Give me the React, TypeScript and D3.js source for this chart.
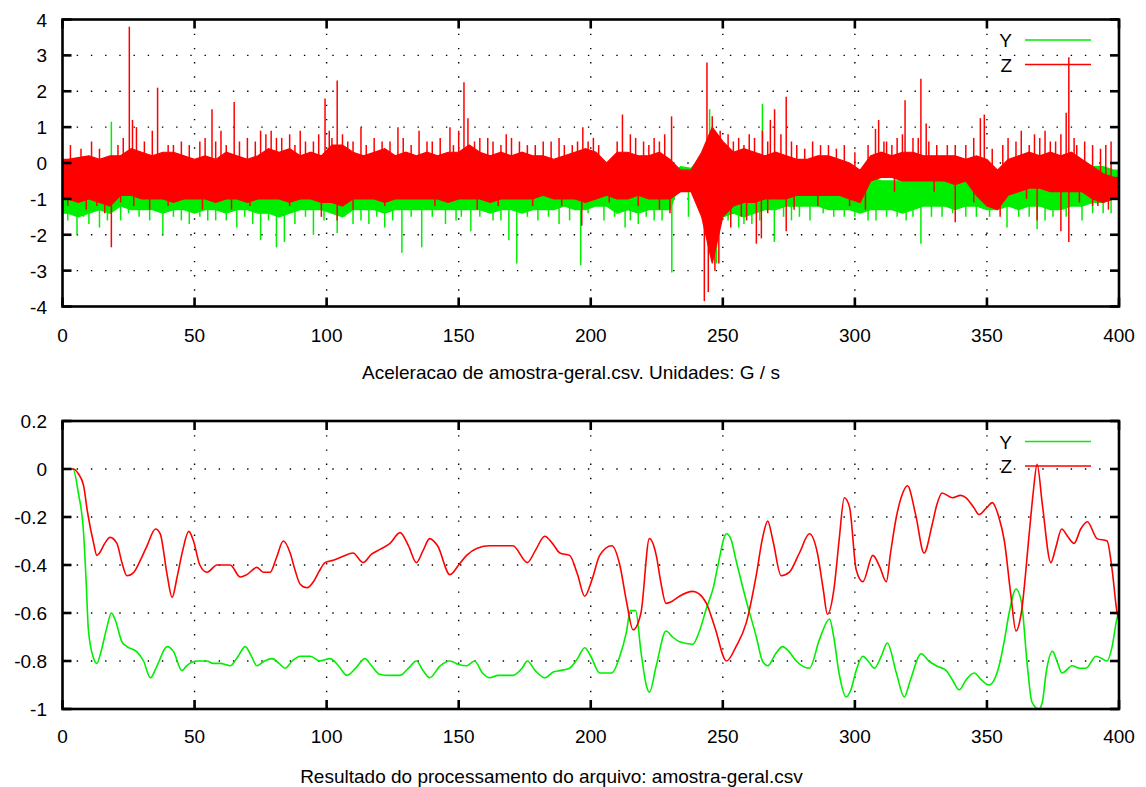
import React, { useEffect, useRef } from 'react';
import * as d3 from 'd3';

const W = 1146;
const H = 787;

const X_TICKS = [0, 50, 100, 150, 200, 250, 300, 350, 400];
const TOP_Y_TICKS = [-4, -3, -2, -1, 0, 1, 2, 3, 4];
const BOTTOM_Y_TICKS = [-1, -0.8, -0.6, -0.4, -0.2, 0, 0.2];
const SERIES = ['Y', 'Z'];
const TOP_TITLE = 'Aceleracao de amostra-geral.csv. Unidades: G / s';
const BOTTOM_TITLE = 'Resultado do processamento do arquivo: amostra-geral.csv';

// Raw acceleration: dense noise band summarised per 4 s bin (upper / lower edge)
const ACC_BIN = 4;
const accZHi = [
  0.1, 0.15, 0.2, 0.1, 0.2, 0.2, 0.4, 0.3, 0.2, 0.3,
  0.3, 0.2, 0.1, 0.2, 0.1, 0.3, 0.2, 0.1, 0.2, 0.4,
  0.3, 0.4, 0.2, 0.3, 0.2, 0.5, 0.5, 0.3, 0.2, 0.3,
  0.4, 0.2, 0.3, 0.2, 0.3, 0.2, 0.3, 0.3, 0.5, 0.3,
  0.2, 0.3, 0.2, 0.3, 0.2, 0.2, 0.1, 0.2, 0.3, 0.4,
  0.3, 0.0, 0.3, 0.3, 0.2, 0.2, 0.3, 0.1, -0.2, -0.2,
  0.3, 1.0, 0.6, 0.3, 0.4, 0.3, 0.2, 0.3, 0.2, 0.1,
  0.1, 0.2, 0.2, 0.1, 0.0, -0.2, 0.2, 0.3, 0.2, 0.3,
  0.3, 0.2, 0.2, 0.2, 0.2, 0.1, 0.2, 0.1, -0.2, 0.1,
  0.2, 0.3, 0.2, 0.3, 0.2, 0.3, 0.1, -0.1, -0.3, -0.4,
];
const accZLo = [
  -1.0, -1.1, -1.0, -1.1, -1.2, -0.9, -0.9, -1.0, -1.0, -1.0,
  -1.1, -1.0, -1.0, -1.0, -1.1, -1.0, -1.0, -1.1, -1.0, -1.0,
  -1.0, -1.1, -1.0, -1.0, -1.1, -1.1, -1.2, -1.0, -1.0, -1.0,
  -1.1, -1.0, -1.0, -1.0, -1.0, -1.0, -1.1, -1.0, -1.0, -1.0,
  -1.1, -1.0, -1.0, -1.0, -1.0, -0.9, -1.0, -1.0, -1.0, -1.1,
  -1.0, -0.9, -1.0, -1.0, -0.9, -1.0, -1.0, -1.0, -0.8, -0.8,
  -1.5, -2.8, -1.5, -1.2, -1.1, -1.1, -1.0, -1.0, -1.0, -0.9,
  -0.9, -0.9, -0.9, -0.9, -1.0, -1.1, -0.5, -0.4, -0.4, -0.5,
  -0.5, -0.5, -0.5, -0.5, -0.6, -0.5, -0.9, -1.2, -1.3, -0.9,
  -0.8, -0.7, -0.7, -0.8, -0.8, -0.8, -0.8, -1.0, -1.1, -1.0,
];
const accYHi = [
  -0.6, -0.5, -0.6, -0.5, -0.5, -0.6, -0.5, -0.6, -0.5, -0.5,
  -0.5, -0.6, -0.5, -0.5, -0.6, -0.5, -0.5, -0.5, -0.6, -0.5,
  -0.5, -0.5, -0.6, -0.5, -0.5, -0.5, -0.6, -0.5, -0.5, -0.5,
  -0.6, -0.5, -0.5, -0.5, -0.6, -0.5, -0.5, -0.5, -0.5, -0.6,
  -0.5, -0.5, -0.6, -0.5, -0.5, -0.5, -0.5, -0.6, -0.5, -0.4,
  -0.4, -0.5, -0.5, -0.6, -0.5, -0.5, -0.5, -0.4, -0.1, -0.15,
  0.2, 0.8, 0.3, -0.4, -0.5, -0.4, -0.5, -0.5, -0.5, -0.4,
  -0.1, -0.2, -0.2, -0.4, -0.4, -0.3, -0.4, -0.5, -0.5, -0.5,
  -0.5, -0.5, -0.5, -0.4, -0.5, -0.5, -0.4, -0.3, -0.2, -0.4,
  -0.5, -0.5, -0.5, -0.5, -0.5, -0.5, -0.3, -0.1, -0.1, -0.2,
];
const accYLo = [
  -1.4, -1.5, -1.4, -1.3, -1.4, -1.2, -1.3, -1.3, -1.3, -1.4,
  -1.3, -1.3, -1.4, -1.3, -1.3, -1.4, -1.3, -1.3, -1.4, -1.4,
  -1.5, -1.4, -1.3, -1.3, -1.3, -1.4, -1.5, -1.3, -1.3, -1.3,
  -1.4, -1.3, -1.3, -1.3, -1.3, -1.3, -1.3, -1.3, -1.3, -1.3,
  -1.4, -1.3, -1.3, -1.4, -1.3, -1.3, -1.3, -1.2, -1.3, -1.3,
  -1.2, -1.2, -1.4, -1.3, -1.4, -1.3, -1.3, -1.3, -0.5, -0.6,
  -1.4, -1.6, -1.5, -1.4, -1.5, -1.4, -1.3, -1.3, -1.2, -1.2,
  -1.2, -1.2, -1.3, -1.3, -1.3, -1.4, -1.3, -1.3, -1.3, -1.4,
  -1.3, -1.2, -1.2, -1.2, -1.3, -1.2, -1.2, -1.3, -1.3, -1.2,
  -1.3, -1.2, -1.2, -1.3, -1.3, -1.2, -1.2, -1.1, -1.1, -1.0,
];

// peaks sticking out of the band: [time, value]
const accZPeaks = [
  [25.3, 3.8], [26.5, 1.2], [28, 1.0], [36, 2.1], [40, 0.5], [45, 0.6], [56.6, 1.5], [60, 0.9],
  [65, 1.7], [70, 0.7], [77, 0.8], [79, 0.9], [83, 0.7], [86, 0.8], [92, 0.6], [97, 0.8],
  [99.4, 1.8], [101, 0.9], [104, 2.3], [108, 0.6], [113, 1.0], [118, 0.7], [124, 0.6], [127, 1.0],
  [135, 0.9], [140, 0.6], [146.7, 1.0], [150, 0.9], [152, 2.25], [153.5, 1.25], [158, 0.7], [163, 0.6],
  [170, 0.7], [176, 0.5], [182, 0.6], [190, 0.5], [197, 1.0], [199, 0.6], [212, 1.35], [215, 0.8],
  [220, 0.6], [224, 0.7], [230.6, 1.3], [244, 2.8], [246, 1.3], [249, 0.9], [256, 0.7], [260, 0.8],
  [265, 0.9], [268, 1.2], [269.6, 1.5], [272, 0.8], [274, 1.85], [278, 0.5], [284, 0.6], [290, 0.5],
  [296, 0.5], [307.8, 0.95], [309, 1.2], [312, 0.6], [316, 0.7], [319, 1.75], [322, 0.7], [325, 2.35],
  [328, 0.6], [335, 0.5], [342, 0.5], [347.5, 1.25], [349, 1.35], [358, 0.7], [363, 0.9], [368, 0.8],
  [372, 0.9], [376, 0.6], [380, 1.4], [381, 2.95], [384, 0.5], [390, 0.5], [397, 0.6],
  [3, 0.5], [7, 0.4], [11, 0.6], [14, 0.4], [21, 0.5], [23, 0.7], [31, 0.6], [34, 0.9], [42, 0.5],
  [48, 0.5], [52, 0.6], [54, 0.7], [58, 0.6], [62, 0.5], [67, 0.6], [73, 0.6], [75, 0.9], [81, 0.7],
  [88, 0.5], [90, 0.9], [95, 0.6], [102, 0.7], [106, 0.8], [110, 0.6], [115, 0.5], [121, 0.6],
  [129, 0.7], [132, 0.5], [138, 0.6], [143, 0.7], [148, 0.5], [156, 0.6], [161, 0.7], [166, 0.5],
  [168, 0.8], [173, 0.6], [179, 0.5], [185, 0.6], [188, 0.7], [193, 0.5], [195, 0.6], [201, 0.7],
  [203, 0.5], [210, 0.6], [217, 0.7], [222, 0.5], [226, 0.6], [228, 0.8], [252, 0.8], [254, 0.6],
  [258, 0.5], [262, 0.7], [267, 0.6], [276, 0.6], [281, 0.4], [287, 0.5], [293, 0.4], [300, 0.3],
  [305, 0.5], [311, 0.6], [314, 0.5], [318, 0.8], [324, 0.7], [327, 1.1], [331, 0.5], [338, 0.5],
  [345, 0.7], [352, 0.4], [356, 0.5], [361, 0.6], [366, 0.5], [370, 0.7], [374, 0.6], [378, 0.8],
  [383, 0.7], [387, 0.6], [393, 0.4], [395, 0.5],
  [18.5, -2.35], [16, -1.4], [33, -1.3], [64, -1.3], [98, -1.5], [104, -1.6], [196.6, -1.75], [230, -1.4],
  [243, -3.85], [244.5, -3.6], [247, -3.0], [248.5, -2.8], [259, -1.6], [262.7, -2.25], [264.6, -2.1],
  [274, -1.9], [338, -1.65], [369, -1.6], [378, -1.9], [381, -2.2], [392, -1.2], [396, -1.3],
  [2, -1.2], [9, -1.3], [13, -1.2], [22, -1.1], [27, -1.2], [40, -1.2], [53, -1.3], [71, -1.2],
  [86, -1.2], [110, -1.3], [122, -1.2], [141, -1.2], [157, -1.3], [165, -1.2], [178, -1.2], [189, -1.2],
  [207, -1.1], [218, -1.2], [226, -1.3], [253, -1.8], [257, -1.5], [267, -1.4], [277, -1.3], [286, -1.2],
  [298, -1.2], [304, -1.3], [315, -0.8], [330, -0.8], [345, -1.1], [355, -1.5], [365, -1.0], [385, -1.1],
  [390, -1.2],
];
const accYPeaks = [
  [5.5, -2.0], [10, -1.7], [14, -1.8], [22, -1.6], [38, -2.0], [48, -1.7], [58, -1.6], [66, -1.8],
  [75, -2.15], [81, -2.35], [84, -2.2], [88, -1.7], [95, -2.0], [104, -1.95], [110, -1.7], [116, -1.7],
  [122, -1.8], [128.5, -2.5], [136, -2.35], [145, -1.7], [154.6, -1.9], [163, -1.6], [169, -2.15], [172, -2.8],
  [180, -1.6], [188, -1.7], [196.2, -2.85], [205, -1.6], [213, -1.8], [218, -1.7], [224, -1.6], [230.7, -3.05],
  [237, -1.5], [247.6, -2.8], [256, -1.8], [261, -1.7], [269.5, -2.2], [276, -1.6], [283, -1.6], [296, -1.5],
  [305, -1.6], [312, -1.5], [319.4, -1.6], [325, -2.25], [333, -1.5], [342, -1.5], [357.6, -1.8], [362, -1.5],
  [369, -1.85], [375, -1.5], [386, -1.6], [397, -1.4],
  [2, -1.6], [8, -1.5], [17, -1.6], [25, -1.4], [29, -1.5], [33, -1.6], [42, -1.5], [45, -1.6],
  [52, -1.5], [55, -1.6], [62, -1.6], [69, -1.5], [72, -1.7], [78, -1.6], [92, -1.5], [99, -1.6],
  [107, -1.5], [113, -1.6], [119, -1.5], [125, -1.6], [132, -1.5], [140, -1.5], [149, -1.6], [151, -1.5],
  [158, -1.5], [166, -1.6], [176, -1.5], [184, -1.5], [192, -1.6], [199, -1.4], [209, -1.5], [215, -1.6],
  [221, -1.5], [227, -1.6], [252, -1.6], [258, -1.7], [264, -1.6], [273, -1.5], [279, -1.5], [288, -1.4],
  [292, -1.5], [300, -1.5], [308, -1.6], [316, -1.5], [322, -1.5], [329, -1.5], [337, -1.4], [346, -1.5],
  [351, -1.5], [366, -1.5], [372, -1.6], [380, -1.5], [390, -1.4], [394, -1.4],
  [18.5, 1.15], [245, 1.5], [265, 1.65],
];

// Processed result (bottom panel): [time, value]
const resY = [
  [0, 0], [4, 0], [6, -0.1], [8, -0.27], [9, -0.48], [9.8, -0.67], [11.8, -0.79], [13, -0.81], [14.6, -0.76],
  [16.8, -0.66], [18.5, -0.6], [20, -0.63], [22.5, -0.72], [24.4, -0.74], [28, -0.76], [30.7, -0.8], [33.3, -0.87],
  [35.8, -0.82], [39.6, -0.74], [42, -0.76], [45.2, -0.84], [47, -0.82], [51, -0.8], [54.7, -0.8], [57, -0.81],
  [59.7, -0.81], [63.5, -0.82], [66.5, -0.78], [69.2, -0.74], [71.5, -0.78], [73.6, -0.82], [76.5, -0.8],
  [79.4, -0.79], [82, -0.81], [84.3, -0.83], [87, -0.8], [90, -0.78], [93.8, -0.78], [97.5, -0.8], [101.3, -0.79],
  [104.5, -0.82], [107.7, -0.86], [111, -0.83], [114.5, -0.79], [117, -0.82], [120, -0.855], [124, -0.86],
  [127.8, -0.86], [131, -0.83], [134, -0.8], [136.5, -0.84], [139, -0.87], [143, -0.82], [146.7, -0.8],
  [150, -0.815], [153, -0.82], [156, -0.8], [159, -0.85], [161.8, -0.87], [165, -0.86], [170.5, -0.86],
  [174, -0.83], [176, -0.8], [179, -0.84], [182.6, -0.87], [186, -0.845], [188.3, -0.84], [192, -0.83],
  [195, -0.79], [197.7, -0.745], [200, -0.78], [203.4, -0.85], [206, -0.85], [208, -0.85], [211, -0.78],
  [213.5, -0.68], [215, -0.59], [217, -0.59], [219, -0.76], [221, -0.9], [222.2, -0.93], [224.8, -0.82],
  [228.5, -0.675], [231, -0.7], [233.6, -0.72], [238.6, -0.73], [241, -0.68], [243.8, -0.58], [246.5, -0.49],
  [248, -0.41], [251.4, -0.27], [253, -0.29], [255, -0.38], [258.9, -0.55], [262.7, -0.7], [265, -0.8],
  [267, -0.82], [270, -0.77], [272.6, -0.74], [275, -0.76], [277.8, -0.8], [282.8, -0.83], [286.6, -0.71],
  [290.4, -0.625], [292, -0.7], [294, -0.85], [296.7, -0.95], [298.5, -0.92], [300.5, -0.84], [303, -0.78],
  [305, -0.8], [307.4, -0.83], [310, -0.78], [312.3, -0.725], [315.7, -0.85], [318.7, -0.95], [321, -0.88],
  [325.1, -0.77], [328, -0.8], [330.8, -0.82], [334.6, -0.84], [337, -0.88], [339.5, -0.92], [342, -0.88],
  [345.2, -0.85], [348, -0.88], [350.8, -0.9], [354.6, -0.82], [356.5, -0.72], [358.4, -0.6], [361, -0.5],
  [363, -0.55], [365.3, -0.82], [367, -0.97], [369.7, -1.0], [371, -0.97], [372.4, -0.85], [374.8, -0.76],
  [376.5, -0.8], [378.4, -0.85], [382.3, -0.82], [385, -0.83], [387.5, -0.83], [391.3, -0.78], [393.5, -0.79],
  [395.5, -0.8], [397.4, -0.74], [399.3, -0.62], [400, -0.6],
];
const resZ = [
  [0, 0], [4, 0], [6, -0.02], [8, -0.07], [9.4, -0.175], [11.8, -0.31], [13, -0.36], [14, -0.35], [16, -0.31],
  [18, -0.285], [20.6, -0.31], [22.5, -0.39], [24.4, -0.445], [27, -0.43], [29.5, -0.38], [32, -0.32],
  [35.2, -0.25], [37, -0.27], [39.6, -0.44], [41.5, -0.535], [43.4, -0.45], [45.5, -0.34], [47.8, -0.26],
  [49.6, -0.3], [52, -0.4], [54.7, -0.43], [58.5, -0.4], [63.5, -0.4], [67.3, -0.45], [69.8, -0.44],
  [73.6, -0.41], [76, -0.43], [78.6, -0.43], [81, -0.37], [83.6, -0.3], [86.2, -0.35], [88, -0.42], [90, -0.48],
  [92.6, -0.495], [95, -0.47], [97, -0.43], [99.4, -0.39], [102.5, -0.38], [106, -0.365], [110, -0.35],
  [113.8, -0.39], [117, -0.355], [120.2, -0.335], [124, -0.31], [127.8, -0.265], [131, -0.32], [134, -0.39],
  [136.5, -0.34], [139, -0.29], [142, -0.32], [146.7, -0.44], [150, -0.4], [153, -0.36], [157, -0.33],
  [161.8, -0.32], [170.5, -0.32], [176, -0.39], [179, -0.34], [182.6, -0.28], [185.5, -0.31], [188.3, -0.35],
  [192, -0.36], [195, -0.44], [197.7, -0.53], [200.5, -0.46], [203.4, -0.36], [208, -0.32], [211, -0.4],
  [213.5, -0.55], [216, -0.67], [219, -0.6], [222.2, -0.29], [224.8, -0.36], [226.5, -0.47], [228.5, -0.56],
  [231, -0.55], [233.6, -0.53], [238.6, -0.51], [241, -0.52], [243.8, -0.56], [247, -0.66], [251.4, -0.8],
  [255, -0.74], [258.9, -0.64], [262.7, -0.44], [265, -0.29], [267, -0.217], [269, -0.3], [272.1, -0.445],
  [275.2, -0.43], [279, -0.35], [282.8, -0.27], [285.8, -0.35], [288, -0.5], [289.6, -0.605], [292.2, -0.49],
  [294, -0.3], [296, -0.12], [298, -0.16], [300.5, -0.42], [303, -0.47], [306.8, -0.36], [309.5, -0.41],
  [311.9, -0.47], [313.5, -0.35], [315.7, -0.2], [317.5, -0.12], [319.9, -0.07], [323, -0.19], [326.2, -0.35],
  [329.3, -0.23], [331, -0.15], [333, -0.1], [337, -0.12], [340, -0.11], [342.1, -0.12], [345, -0.16],
  [347, -0.19], [350, -0.16], [352, -0.14], [354.5, -0.2], [356.6, -0.3], [359, -0.52], [361, -0.675],
  [363, -0.6], [366, -0.27], [367.5, -0.1], [369, 0.02], [371, -0.15], [374.2, -0.39], [376, -0.33],
  [378.3, -0.25], [380.5, -0.28], [383, -0.31], [385.5, -0.25], [388, -0.22], [391.7, -0.29], [395.5, -0.3],
  [397.4, -0.42], [399.3, -0.6], [400, -0.63],
];

const COLORS = { Y: '#00ee00', Z: '#ff0000' };
const FONT = '"Liberation Sans", Arial, Helvetica, sans-serif';

const App = () => {
  const svgRef = useRef<SVGSVGElement>(null);

  useEffect(() => {
    const svg = d3.select(svgRef.current);
    svg.selectAll('*').remove();

    const x = d3.scaleLinear().domain([0, 400]).range([62.5, 1119]);
    const [xl, xr] = x.range();

    const drawPanel = (opts) => {
      const { domain, range, ticks, title, titleX, titleY, xLabelY, legendY, body } = opts;
      const y = d3.scaleLinear().domain(domain).range(range);
      const [yb, yt] = range;
      const g = svg.append('g');

      // dotted grid
      const grid = g.append('g')
        .attr('stroke', '#000')
        .attr('stroke-width', 1.4)
        .attr('stroke-dasharray', '1.4 12.8');
      grid.selectAll('.gx').data(X_TICKS.slice(1, -1)).join('line')
        .attr('x1', d => x(d)).attr('x2', d => x(d))
        .attr('y1', yt).attr('y2', yb);
      grid.selectAll('.gy').data(ticks.slice(1, -1)).join('line')
        .attr('y1', d => y(d)).attr('y2', d => y(d))
        .attr('x1', xl).attr('x2', xr);

      body(g, y);

      // frame and inward ticks on all sides
      g.append('rect')
        .attr('x', xl).attr('y', yt)
        .attr('width', xr - xl).attr('height', yb - yt)
        .attr('fill', 'none').attr('stroke', '#000').attr('stroke-width', 2.6);

      const tk = g.append('g').attr('stroke', '#000').attr('stroke-width', 2.6);
      const tl = 9;
      ticks.forEach(v => {
        tk.append('line').attr('x1', xl).attr('x2', xl + tl).attr('y1', y(v)).attr('y2', y(v));
        tk.append('line').attr('x1', xr).attr('x2', xr - tl).attr('y1', y(v)).attr('y2', y(v));
      });
      X_TICKS.forEach(v => {
        tk.append('line').attr('y1', yb).attr('y2', yb - tl).attr('x1', x(v)).attr('x2', x(v));
        tk.append('line').attr('y1', yt).attr('y2', yt + tl).attr('x1', x(v)).attr('x2', x(v));
      });

      const txt = g.append('g').style('font-family', FONT).style('font-size', '19px').attr('fill', '#000');
      txt.selectAll('.yl').data(ticks).join('text')
        .attr('x', 47).attr('y', d => y(d) + 7)
        .attr('text-anchor', 'end')
        .text(d => String(Math.round(d * 10) / 10));
      txt.selectAll('.xl').data(X_TICKS).join('text')
        .attr('x', d => x(d)).attr('y', xLabelY)
        .attr('text-anchor', 'middle')
        .text(d => String(d));
      txt.append('text')
        .attr('x', titleX).attr('y', titleY)
        .attr('text-anchor', 'middle')
        .text(title);

      // key
      SERIES.forEach((s, i) => {
        const ly = legendY + i * 24.5;
        txt.append('text').attr('x', 1012).attr('y', ly + 7).attr('text-anchor', 'end').text(s);
        g.append('line')
          .attr('x1', 1025).attr('x2', 1091).attr('y1', ly).attr('y2', ly)
          .attr('stroke', COLORS[s]).attr('stroke-width', 1.6);
      });
    };

    // top: raw acceleration
    drawPanel({
      domain: [-4, 4], range: [306.5, 19.5], ticks: TOP_Y_TICKS,
      title: TOP_TITLE, titleX: 571, titleY: 379, xLabelY: 342, legendY: 40,
      body: (g, y) => {
        const drawNoise = (hi, lo, peaks, color) => {
          const n = hi.length;
          // bin centres, plus the two ends of the record
          const pts = [
            { t: 0, h: hi[0], l: lo[0] },
            ...hi.map((h, i) => ({ t: i * ACC_BIN + ACC_BIN / 2, h, l: lo[i] })),
            { t: n * ACC_BIN, h: hi[n - 1], l: lo[n - 1] },
          ];
          const area = d3.area<{ t: number; h: number; l: number }>()
            .x(d => x(d.t))
            .y0(d => y(d.l))
            .y1(d => y(d.h));
          g.append('path').datum(pts)
            .attr('d', area)
            .attr('fill', color).attr('stroke', color).attr('stroke-width', 1.2);
          g.append('g').selectAll('line').data(peaks).join('line')
            .attr('x1', d => x(d[0])).attr('x2', d => x(d[0]))
            .attr('y1', d => {
              const b = Math.min(Math.floor(d[0] / ACC_BIN), n - 1);
              return y((hi[b] + lo[b]) / 2);
            })
            .attr('y2', d => y(d[1]))
            .attr('stroke', color).attr('stroke-width', 1.5);
        };
        drawNoise(accYHi, accYLo, accYPeaks, COLORS.Y);
        drawNoise(accZHi, accZLo, accZPeaks, COLORS.Z);
      },
    });

    // bottom: processed result
    drawPanel({
      domain: [-1, 0.2], range: [709, 421], ticks: BOTTOM_Y_TICKS,
      title: BOTTOM_TITLE, titleX: 551.5, titleY: 783, xLabelY: 743, legendY: 441.5,
      body: (g, y) => {
        const line = d3.line<number[]>()
          .x(d => x(d[0])).y(d => y(d[1]))
          .curve(d3.curveMonotoneX);
        [['Y', resY], ['Z', resZ]].forEach(([s, data]) => {
          g.append('path').datum(data as number[][])
            .attr('d', line)
            .attr('fill', 'none')
            .attr('stroke', COLORS[s as string])
            .attr('stroke-width', 1.6)
            .attr('stroke-linejoin', 'round');
        });
      },
    });
  }, []);

  return (
    <div style={{ position: 'absolute', left: 0, top: 0, background: '#fff' }}>
      <svg ref={svgRef} width={W} height={H} style={{ display: 'block' }} />
    </div>
  );
};

export default App;
